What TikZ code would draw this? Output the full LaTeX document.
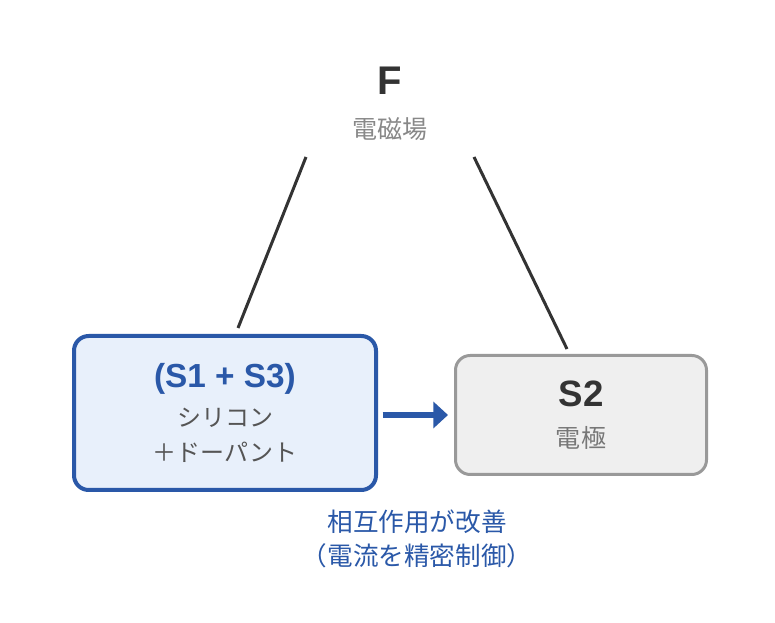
\documentclass[tikz,border=0pt]{standalone}
\usepackage{fontspec}
\setmainfont{Liberation Sans}
\newfontfamily\jp{Noto Sans CJK JP}
\usepackage{xcolor}
\usetikzlibrary{arrows.meta,positioning}

\definecolor{siblue}{HTML}{2A58A8}
\definecolor{sifill}{HTML}{E8F0FB}
\definecolor{elline}{HTML}{999999}
\definecolor{elfill}{HTML}{EFEFEF}
\definecolor{darktxt}{HTML}{333333}
\definecolor{softtxt}{HTML}{888888}
\definecolor{midtxt}{HTML}{555555}

\tikzset{
  compbox/.style={rounded corners=11pt, inner sep=0pt},
  title/.style={font=\bfseries, text=darktxt, inner sep=0pt, anchor=center},
  jplabel/.style={font=\jp, inner sep=0pt, anchor=center},
  link/.style={line width=2.25pt, draw=darktxt},
}

\begin{document}
\begin{tikzpicture}[x=0.75pt, y=-0.75pt]
    % Canvas
    \fill[white] (0, 0) rectangle (775, 623);

    % Field
    \node[title, font=\bfseries\fontsize{30}{36}\selectfont] (fieldF) at (390, 81) {F};
    \node[jplabel, font=\jp\fontsize{18.8}{22}\selectfont, text=softtxt] (fieldsub) at (390, 129) {電磁場};

    % Blocks
    \node[compbox, draw=siblue, fill=sifill, line width=3pt,
          minimum width=226.5pt, minimum height=115.5pt] (silicon) at (225, 413) {};
    \node[compbox, draw=elline, fill=elfill, line width=2.25pt,
          minimum width=188.25pt, minimum height=89.25pt] (electrode) at (581, 415) {};

    % Block texts
    \node[title, font=\bfseries\fontsize{25}{30}\selectfont, text=siblue] (sitop) at (225, 379) {(S1 + S3)};
    \node[jplabel, font=\jp\fontsize{18}{22}\selectfont, text=midtxt] (simid) at (225, 418) {シリコン};
    \node[jplabel, font=\jp\fontsize{18}{22}\selectfont, text=midtxt] (sibot) at (225, 452) {＋ドーパント};

    \node[title, font=\bfseries\fontsize{27.5}{32}\selectfont] (eltop) at (581, 394) {S2};
    \node[jplabel, font=\jp\fontsize{18.8}{22}\selectfont, text=midtxt!80] (elbot) at (581, 438) {電極};

    % Field lines
    \coordinate (fl) at (306, 157);
    \coordinate (fr) at (474, 157);
    \coordinate (sl) at (238, 328);
    \coordinate (er) at (567, 349);
    \draw[link] (fl) -- (sl);
    \draw[link] (fr) -- (er);

    % Interaction
    \draw[-{Triangle[length=11pt, width=19.5pt]}, line width=4.5pt, draw=siblue,
          shorten <=3.5pt, shorten >=4.5pt] (silicon.east |- electrode.west) -- (electrode.west);
    \node[jplabel, font=\jp\fontsize{19.2}{25}\selectfont, text=siblue, align=center] (gain) at (417, 539)
        {相互作用が改善\\（電流を精密制御）};
\end{tikzpicture}
\end{document}
